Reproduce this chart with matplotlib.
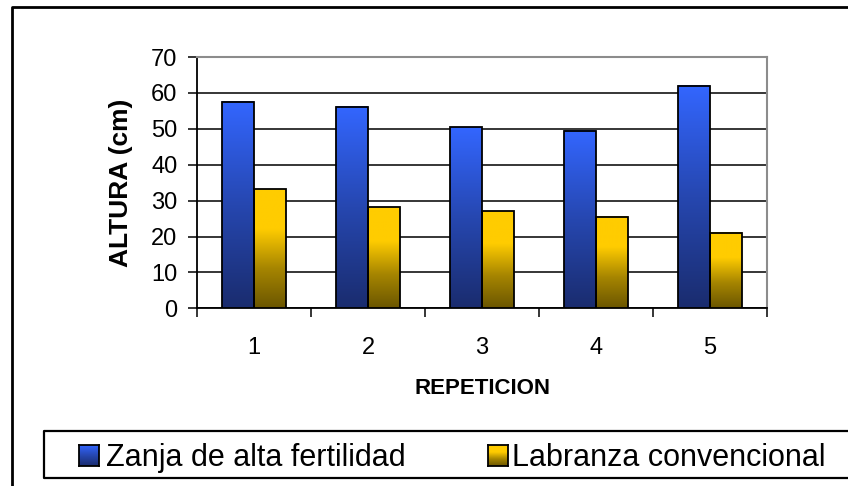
import numpy as np
import matplotlib
matplotlib.use("Agg")
import matplotlib.pyplot as plt
from matplotlib.colors import LinearSegmentedColormap
from matplotlib.lines import Line2D

categories = ["1", "2", "3", "4", "5"]
zanja = [57.5, 56.2, 50.4, 49.4, 62.0]
labranza = [33.1, 28.1, 27.0, 25.4, 20.9]
series_names = ["Zanja de alta fertilidad", "Labranza convencional"]
yticks = [0, 10, 20, 30, 40, 50, 60, 70]

plt.rcParams['font.family'] = ['Liberation Sans', 'DejaVu Sans']

W, H = 848, 486
fig = plt.figure(figsize=(W / 100, H / 100), dpi=100)

def fx(px):
    return px / W

def fy(py):
    return 1 - py / H

ax = fig.add_axes([fx(197), fy(308.3), fx(767) - fx(197), fy(57) - fy(308.3)])

blue_cmap = LinearSegmentedColormap.from_list("b", ["#1a2c6e", "#2647b0", "#3366ff"])
gold_cmap = LinearSegmentedColormap.from_list("g", ["#6b5600", "#a68500", "#ffcc00", "#ffcc00"])

x = np.arange(len(categories))
bw = 0.28
bars1 = ax.bar(x - bw / 2, zanja, bw, facecolor="none", edgecolor="black", linewidth=1.3, zorder=4)
bars2 = ax.bar(x + bw / 2, labranza, bw, facecolor="none", edgecolor="black", linewidth=1.3, zorder=4)

grad = np.linspace(0, 1, 256).reshape(-1, 1)
for bars, cmap in ((bars1, blue_cmap), (bars2, gold_cmap)):
    for p in bars:
        x0, y0 = p.get_x(), p.get_y()
        w, h = p.get_width(), p.get_height()
        ax.imshow(grad, cmap=cmap, origin="lower", aspect="auto",
                  extent=(x0, x0 + w, y0, y0 + h), zorder=3, interpolation="bilinear")

ax.set_xlim(-0.5, len(categories) - 0.5)
ax.set_ylim(0, 70)
ax.set_yticks(yticks)
ax.set_yticklabels([str(v) for v in yticks], fontsize=17)
ax.yaxis.grid(True, color="black", linewidth=1.1, zorder=1)
ax.set_axisbelow(True)

ax.set_xticks(np.arange(len(categories) + 1) - 0.5)
ax.set_xticklabels([])
ax.set_xticks(x, minor=True)
ax.set_xticklabels(categories, minor=True, fontsize=17)
ax.tick_params(axis="x", which="major", length=6.5, width=1.1, direction="out")
ax.tick_params(axis="x", which="minor", length=0, pad=21)
ax.tick_params(axis="y", length=6.5, width=1.1, direction="out", pad=7.5)

for s in ("left", "bottom"):
    ax.spines[s].set_color("black")
    ax.spines[s].set_linewidth(1.3)
for s in ("top", "right"):
    ax.spines[s].set_color("#8c8c8c")
    ax.spines[s].set_linewidth(1.5)

ax.set_ylabel("ALTURA (cm)", fontsize=19, fontweight="bold")
ax.set_xlabel("REPETICION", fontsize=16, fontweight="bold")
ax.yaxis.set_label_coords((133 - 197) / 570, 0.5)
ax.xaxis.set_label_coords(0.5, (308.3 - 378) / 251.3)

# outer chart frame (cropped on right and bottom)
fig.add_artist(Line2D([fx(12), fx(12), 1.0], [0.0, fy(7.5), fy(7.5)],
                      transform=fig.transFigure, color="black", linewidth=2))

# legend box (cropped on right)
fig.add_artist(Line2D([1.0, fx(44), fx(44), 1.0], [fy(431), fy(431), fy(478), fy(478)],
                      transform=fig.transFigure, color="black", linewidth=1.6))

def legend_square(px0, cmap):
    lax = fig.add_axes([fx(px0), fy(466), fx(20), fy(445) - fy(466)])
    lax.imshow(grad, cmap=cmap, origin="lower", aspect="auto", extent=(0, 1, 0, 1))
    lax.set_xticks([]); lax.set_yticks([])
    for s in lax.spines.values():
        s.set_linewidth(1.3)
        s.set_color("black")

legend_square(79, blue_cmap)
legend_square(488, gold_cmap)
fig.text(fx(106), fy(466), series_names[0], fontsize=22, va="baseline", ha="left")
fig.text(fx(512), fy(466), series_names[1], fontsize=22, va="baseline", ha="left")

fig.savefig("out.png", dpi=100)
